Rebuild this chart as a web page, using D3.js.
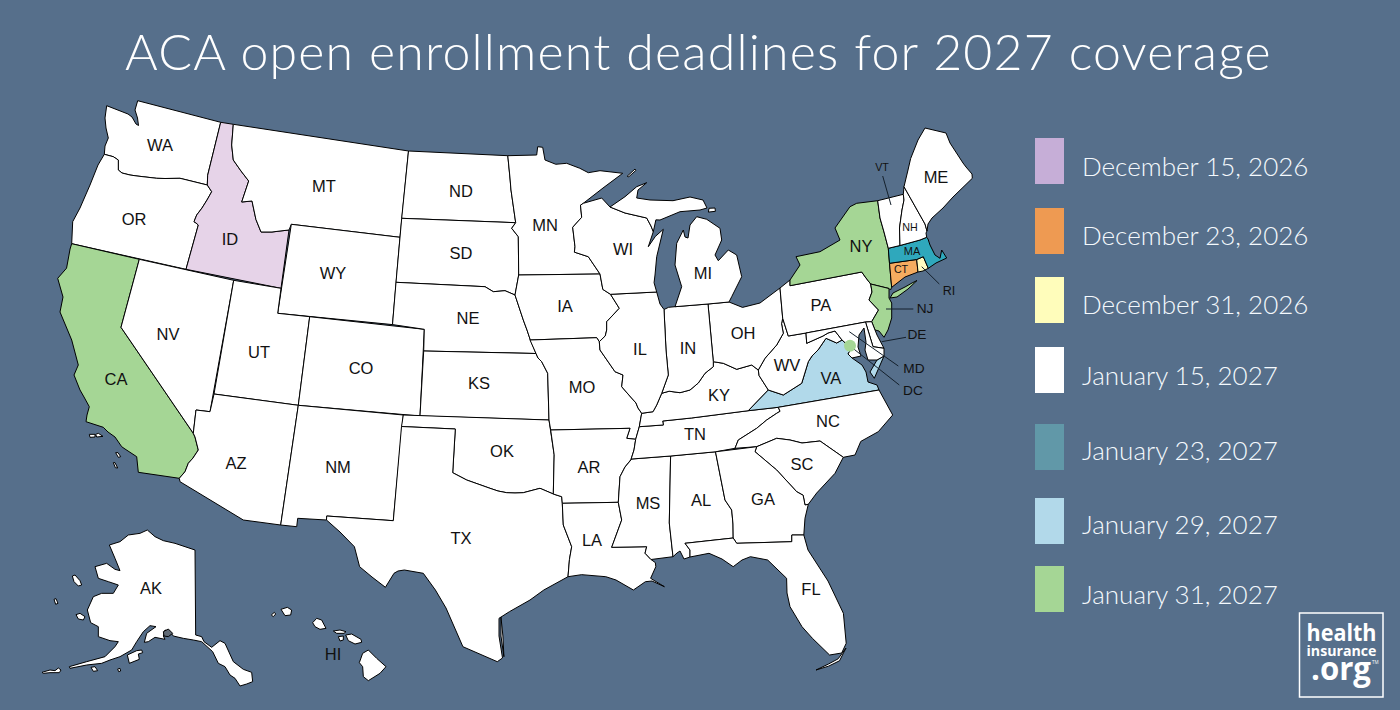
<!DOCTYPE html>
<html><head><meta charset="utf-8">
<script src="https://cdn.jsdelivr.net/npm/d3@7"></script>
<style>html,body{margin:0;padding:0;background:#566f8b}svg{display:block}</style></head>
<body><svg id="c" width="1400" height="710"></svg>
<script>
const titleText="ACA open enrollment deadlines for 2027 coverage";
const deadlines=["December 15, 2026","December 23, 2026","December 31, 2026","January 15, 2027","January 23, 2027","January 29, 2027","January 31, 2027"];
const swatchColors=["#c6aed7","#ee9a52","#fffdbb","#ffffff","#6198a8","#b2d9ea","#a5d695"];
const highlighted={ID:"#e6d3e8",CA:"#a5d695",NY:"#a5d695",NJ:"#a5d695",LI:"#a5d695",MA:"#2fa8bc",CT:"#f5ac60",RI:"#fffbc0",VA:"#b1d9ea",VAE:"#b1d9ea"};
const stateGeo={
WA:[[-124.73,48.38],[-123.1,48.15],[-122.75,48.15],[-122.6,47.5],[-122.45,47.3],[-122.3,47.9],[-122.5,48.5],[-122.76,49],[-117.03,49],[-117.04,46.42],[-116.92,45.99],[-118.98,46],[-119.3,45.93],[-120.5,45.7],[-121.2,45.65],[-122,45.6],[-122.3,45.55],[-122.75,45.65],[-122.8,46],[-123.2,46.15],[-123.55,46.26],[-124,46.27],[-124.1,46.7],[-124.2,47],[-124.4,47.5],[-124.7,47.95]],
OR:[[-124.2,42],[-124.55,42.84],[-124.15,43.7],[-124.05,44.7],[-123.95,45.5],[-124,46.27],[-123.55,46.26],[-123.2,46.15],[-122.8,46],[-122.75,45.65],[-122.3,45.55],[-122,45.6],[-121.2,45.65],[-120.5,45.7],[-119.3,45.93],[-118.98,46],[-116.92,45.99],[-116.47,45.6],[-116.67,45.3],[-116.85,44.95],[-117.2,44.45],[-117.03,44.25],[-116.95,44.1],[-117.03,43.83],[-117.03,42]],
CA:[[-124.2,42],[-120,42],[-120,39],[-114.63,35],[-114.57,34.8],[-114.14,34.3],[-114.43,34.08],[-114.72,33.4],[-114.52,33.03],[-114.72,32.72],[-117.12,32.53],[-117.28,33],[-118,33.65],[-118.4,33.75],[-118.52,34.03],[-119.2,34.15],[-119.6,34.42],[-120.47,34.45],[-120.65,34.95],[-120.9,35.45],[-121.9,36.6],[-121.8,36.85],[-122.05,36.95],[-122.5,37.5],[-122.5,37.8],[-123,38],[-123.7,38.9],[-123.8,39.7],[-124.35,40.3],[-124.4,40.45],[-124.1,41],[-124.2,41.75]],
NV:[[-120,42],[-114.04,42],[-114.04,36.2],[-114.75,36.1],[-114.63,35],[-120,39]],
ID:[[-117.03,42],[-111.05,42],[-111.05,44.47],[-111.5,44.53],[-112.3,44.55],[-113,44.45],[-113.45,44.95],[-113.95,45.7],[-114.5,45.55],[-114.35,46.65],[-114.9,46.9],[-115.7,47.45],[-116.05,48],[-116.05,49],[-117.03,49],[-117.04,46.42],[-116.92,45.99],[-116.47,45.6],[-116.67,45.3],[-116.85,44.95],[-117.2,44.45],[-117.03,44.25],[-116.95,44.1],[-117.03,43.83]],
MT:[[-116.05,49],[-104.05,49],[-104.05,45],[-111.05,45],[-111.05,44.47],[-111.5,44.53],[-112.3,44.55],[-113,44.45],[-113.45,44.95],[-113.95,45.7],[-114.5,45.55],[-114.35,46.65],[-114.9,46.9],[-115.7,47.45],[-116.05,48]],
WY:[[-111.05,45],[-104.05,45],[-104.05,41],[-111.05,41]],
UT:[[-114.04,42],[-111.05,42],[-111.05,41],[-109.05,41],[-109.05,37],[-114.04,37]],
CO:[[-109.05,41],[-102.05,41],[-102.05,37],[-109.05,37]],
AZ:[[-114.75,36.1],[-114.04,36.2],[-114.04,37],[-109.05,37],[-109.05,31.33],[-111.07,31.33],[-114.81,32.5],[-114.72,32.72],[-114.52,33.03],[-114.72,33.4],[-114.43,34.08],[-114.14,34.3],[-114.57,34.8],[-114.63,35]],
NM:[[-109.05,37],[-103,37],[-103.04,32],[-106.62,32],[-106.53,31.78],[-108.2,31.78],[-108.2,31.33],[-109.05,31.33]],
ND:[[-104.05,49],[-97.23,49],[-97.1,48],[-96.85,47.6],[-96.56,45.93],[-104.05,45.94]],
SD:[[-104.05,45.94],[-96.56,45.93],[-96.85,45.6],[-96.45,45.3],[-96.45,43.5],[-96.44,42.49],[-97.2,42.85],[-97.9,42.8],[-98.5,43],[-104.05,43]],
NE:[[-104.05,43],[-98.5,43],[-97.9,42.8],[-97.2,42.85],[-96.44,42.49],[-96.1,41.7],[-95.9,41.2],[-95.85,40.7],[-95.3,40],[-102.05,40],[-102.05,41],[-104.05,41]],
KS:[[-102.05,40],[-95.3,40],[-94.9,39.75],[-95,39.5],[-94.6,39.1],[-94.62,37],[-102.05,37]],
OK:[[-103,37],[-94.62,37],[-94.43,35.4],[-94.48,33.64],[-95.3,33.88],[-96,33.85],[-96.6,33.85],[-97.2,33.85],[-97.7,33.95],[-98.1,34.1],[-99.2,34.3],[-100,34.56],[-100,36.5],[-103,36.5]],
TX:[[-106.62,32],[-103.04,32],[-103,36.5],[-100,36.5],[-100,34.56],[-99.2,34.3],[-98.1,34.1],[-97.7,33.95],[-97.2,33.85],[-96.6,33.85],[-96,33.85],[-95.3,33.88],[-94.48,33.64],[-94.04,33.55],[-94.04,33],[-94.04,32],[-93.55,31.2],[-93.7,30.6],[-93.84,29.7],[-94.7,29.4],[-95.3,28.9],[-96.4,28.35],[-97.2,27.6],[-97.4,27],[-97.15,25.96],[-97.6,25.9],[-99.1,26.4],[-99.5,27.5],[-100.3,28.3],[-100.7,29.1],[-101.4,29.77],[-102.3,29.88],[-102.7,29.7],[-103.15,28.98],[-104,29.3],[-104.5,29.65],[-105,30.65],[-106,31.4],[-106.53,31.78]],
PADRE:[[-97.1,27.65],[-97.3,27],[-97.08,26.02],[-97.2,27]],
MN:[[-97.23,49],[-95.15,49],[-95.15,49.38],[-94.82,49.3],[-94.6,48.72],[-93.8,48.55],[-92.95,48.62],[-92,48.3],[-91.4,48.07],[-90.75,48.1],[-89.5,48],[-90.8,47.3],[-92.1,46.75],[-92.29,46.67],[-92.29,46.07],[-92.85,45.6],[-92.75,45],[-92.8,44.75],[-91.9,44.3],[-91.2,43.5],[-96.45,43.5],[-96.45,45.3],[-96.85,45.6],[-96.56,45.93],[-96.85,47.6],[-97.1,48]],
ROYALE:[[-89.2,47.85],[-88.45,48.15],[-88.4,48.08],[-89.05,47.82]],
IA:[[-96.45,43.5],[-91.2,43.5],[-91.1,42.75],[-90.65,42.5],[-90.15,41.9],[-90.35,41.55],[-91.05,41.2],[-91.1,40.7],[-91.42,40.38],[-91.7,40.6],[-95.77,40.58],[-95.85,40.7],[-95.9,41.2],[-96.1,41.7],[-96.44,42.49]],
MO:[[-95.77,40.58],[-91.7,40.6],[-91.42,40.38],[-91.5,40],[-90.75,39.25],[-90.7,38.9],[-90.15,38.8],[-90.2,38.4],[-89.6,37.9],[-89.5,37.3],[-89.13,36.98],[-89.4,36.5],[-89.7,36],[-90.37,36],[-90.15,36.5],[-94.62,36.5],[-94.62,37],[-94.6,39.1],[-95,39.5],[-94.9,39.75],[-95.3,40]],
AR:[[-94.62,36.5],[-90.15,36.5],[-90.37,36],[-89.7,36],[-89.95,35.5],[-90.1,35],[-90.6,34.7],[-91.1,33.9],[-91.17,33],[-94.04,33],[-94.04,33.55],[-94.48,33.64],[-94.43,35.4]],
LA:[[-94.04,33],[-91.17,33],[-91,32.4],[-91.6,31],[-89.73,31],[-89.85,30.67],[-89.6,30.2],[-89.4,30],[-89.4,29.8],[-89.4,29.3],[-89.1,29],[-89.4,28.95],[-90,29.2],[-90.9,29.05],[-91.8,29.5],[-92.3,29.55],[-93.2,29.77],[-93.84,29.7],[-93.7,30.6],[-93.55,31.2],[-94.04,32]],
MS:[[-91.17,33],[-91.1,33.9],[-90.6,34.7],[-90.3,35],[-88.2,35],[-88.1,34.9],[-88.47,31.9],[-88.4,30.35],[-89.6,30.2],[-89.85,30.67],[-89.73,31],[-91.6,31],[-91,32.4]],
AL:[[-88.2,35],[-85.6,34.98],[-85.18,32.87],[-85,32.3],[-85.05,31.55],[-85,31],[-87.6,31],[-87.4,30.65],[-87.52,30.28],[-88,30.23],[-88.05,30.6],[-88.13,30.33],[-88.4,30.35],[-88.47,31.9],[-88.1,34.9]],
TN:[[-90.3,35],[-90.1,35],[-89.95,35.5],[-89.7,36],[-89.4,36.5],[-88.05,36.5],[-88.07,36.68],[-86.5,36.65],[-83.68,36.6],[-81.68,36.59],[-81.7,36.3],[-82,36.12],[-82.6,36],[-83.1,35.75],[-84,35.4],[-84.32,34.99],[-85.6,34.98],[-88.2,35]],
KY:[[-89.4,36.5],[-89.13,36.98],[-88.5,37.1],[-88.1,37.5],[-88.02,37.8],[-87.6,37.9],[-87.1,37.8],[-86.5,38],[-85.9,38],[-85.4,38.7],[-84.8,38.78],[-84.8,39.1],[-84.2,38.8],[-83.7,38.63],[-83,38.73],[-82.6,38.42],[-82.6,38.15],[-81.97,37.54],[-83.68,36.6],[-86.5,36.65],[-88.07,36.68],[-88.05,36.5]],
VA:[[-83.68,36.6],[-81.97,37.54],[-81.25,37.25],[-80.3,37.5],[-79.9,38.2],[-79.3,38.42],[-78.87,38.77],[-78.35,39.4],[-77.83,39.13],[-77.72,39.32],[-77.1,38.85],[-77.05,38.75],[-77.3,38.4],[-76.95,38.25],[-76.3,37.9],[-76.3,37.5],[-76.35,37],[-76,36.92],[-75.87,36.55],[-81.68,36.59]],
VAE:[[-75.65,37.95],[-75.24,38.03],[-75.9,37.1],[-76,37.3]],
WV:[[-81.97,37.54],[-82.6,38.15],[-82.6,38.42],[-82.2,38.6],[-81.7,39.25],[-80.87,39.7],[-80.65,40.4],[-80.52,40.64],[-80.52,39.72],[-79.48,39.72],[-79.48,39.2],[-79.1,39.47],[-78.45,39.53],[-77.83,39.6],[-77.72,39.32],[-77.83,39.13],[-78.35,39.4],[-78.87,38.77],[-79.3,38.42],[-79.9,38.2],[-80.3,37.5],[-81.25,37.25]],
OH:[[-84.8,39.1],[-84.8,41.7],[-83.45,41.73],[-82.7,41.45],[-81.7,41.5],[-80.52,41.98],[-80.52,40.64],[-80.65,40.4],[-80.87,39.7],[-81.7,39.25],[-82.2,38.6],[-82.6,38.42],[-83,38.73],[-83.7,38.63],[-84.2,38.8]],
IN:[[-87.53,41.7],[-87.2,41.75],[-86.82,41.76],[-84.8,41.7],[-84.8,39.1],[-84.8,38.78],[-85.4,38.7],[-85.9,38],[-86.5,38],[-87.1,37.8],[-87.6,37.9],[-88.02,37.8],[-87.53,38.7],[-87.53,39.35]],
IL:[[-90.65,42.5],[-87.8,42.5],[-87.6,41.85],[-87.53,41.7],[-87.53,39.35],[-87.53,38.7],[-88.02,37.8],[-88.1,37.5],[-88.5,37.1],[-89.13,36.98],[-89.5,37.3],[-89.6,37.9],[-90.2,38.4],[-90.15,38.8],[-90.7,38.9],[-90.75,39.25],[-91.5,40],[-91.42,40.38],[-91.1,40.7],[-91.05,41.2],[-90.35,41.55],[-90.15,41.9]],
WI:[[-92.1,46.75],[-90.9,46.95],[-90.4,46.55],[-89.1,46.15],[-88.1,45.9],[-87.85,45.35],[-87.6,45.1],[-88,44.55],[-87.5,44.9],[-87.05,45.25],[-87.5,44.4],[-87.75,43.7],[-87.9,43],[-87.8,42.5],[-90.65,42.5],[-91.1,42.75],[-91.2,43.5],[-91.9,44.3],[-92.8,44.75],[-92.75,45],[-92.85,45.6],[-92.29,46.07],[-92.29,46.67]],
MIL:[[-86.82,41.76],[-86.25,42.4],[-86.5,43.6],[-86.25,44.7],[-85.6,45],[-85.5,44.8],[-85.35,44.8],[-85,45.4],[-84.75,45.78],[-84.2,45.63],[-83.4,45.2],[-83.3,44.85],[-83.55,44.05],[-83.9,43.65],[-82.95,44.07],[-82.6,43.8],[-82.42,43],[-83.1,42.25],[-83.45,41.73],[-84.8,41.7]],
MIU:[[-90.4,46.55],[-89.1,46.95],[-88.45,47.35],[-87.9,47.47],[-88.2,47],[-88.45,46.8],[-87.5,46.5],[-86.5,46.5],[-85.7,46.7],[-85,46.75],[-84.55,46.45],[-84.75,45.9],[-85.5,46.05],[-86.5,45.75],[-87,45.75],[-87.6,45.1],[-87.85,45.35],[-88.1,45.9],[-89.1,46.15]],
DRUMMOND:[[-84.1,46.1],[-83.7,46.05],[-83.7,45.9],[-84.1,45.92]],
PA:[[-80.52,41.98],[-79.76,42.27],[-79.76,42],[-75.35,42],[-75.05,41.7],[-74.7,41.36],[-75.1,40.95],[-75.2,40.65],[-74.72,40.15],[-75.4,39.8],[-75.79,39.72],[-79.48,39.72],[-80.52,39.72],[-80.52,40.64]],
NY:[[-79.76,42.27],[-78.9,42.85],[-79.05,43.27],[-77.5,43.27],[-76.3,43.5],[-76.2,44],[-75,44.95],[-74.7,45],[-73.35,45],[-73.4,44],[-73.4,43.6],[-73.27,42.75],[-73.5,42.05],[-73.5,41.3],[-73.65,41],[-73.8,40.8],[-73.9,41],[-74.7,41.36],[-75.05,41.7],[-75.35,42],[-79.76,42]],
LI:[[-74.03,40.6],[-73.75,40.85],[-72.6,40.98],[-72.3,41.15],[-71.87,41.07],[-72.5,40.82],[-73.5,40.6]],
NJ:[[-74.7,41.36],[-73.9,41],[-74.15,40.6],[-74,40.4],[-74.1,39.75],[-74.4,39.4],[-74.9,38.93],[-75.15,39.2],[-75.55,39.5],[-75.4,39.8],[-74.72,40.15],[-75.2,40.65],[-75.1,40.95]],
DE:[[-75.79,39.72],[-75.4,39.8],[-75.55,39.5],[-75.4,39.1],[-75.05,38.45],[-75.7,38.45]],
MD:[[-79.48,39.72],[-75.79,39.72],[-75.7,38.45],[-75.05,38.45],[-75.24,38.03],[-75.65,37.95],[-75.9,38.2],[-76.2,38.6],[-76.1,39],[-76.1,39.4],[-76.5,39.2],[-76.45,38.5],[-76.3,38.05],[-76.95,38.25],[-77.3,38.4],[-77.05,38.75],[-77.1,38.85],[-77.72,39.32],[-77.83,39.6],[-78.45,39.53],[-79.1,39.47],[-79.48,39.2]],
CT:[[-73.5,42.05],[-71.8,42.02],[-71.85,41.32],[-72.9,41.25],[-73.65,41],[-73.5,41.3]],
RI:[[-71.8,42.02],[-71.38,42.02],[-71.2,41.5],[-71.5,41.37],[-71.85,41.32]],
MA:[[-73.5,42.05],[-73.27,42.75],[-72.46,42.73],[-71.3,42.7],[-70.9,42.88],[-70.6,42.65],[-71,42.3],[-70.6,41.95],[-70,41.8],[-70.2,42.07],[-69.95,41.7],[-70.65,41.55],[-71.2,41.5],[-71.38,42.02],[-71.8,42.02]],
VT:[[-73.35,45],[-71.5,45.01],[-71.6,44.5],[-72.05,44.2],[-72.4,43.4],[-72.46,42.73],[-73.27,42.75],[-73.4,43.6],[-73.4,44]],
NH:[[-71.5,45.01],[-71.08,45.3],[-70.98,43.4],[-70.7,43.08],[-70.82,42.87],[-70.9,42.88],[-71.3,42.7],[-72.46,42.73],[-72.4,43.4],[-72.05,44.2],[-71.6,44.5]],
ME:[[-71.08,45.3],[-70.4,45.8],[-70.25,46.2],[-70,46.7],[-69.23,47.46],[-68.3,47.36],[-67.8,47.07],[-67.78,45.9],[-67.45,45.6],[-67.45,45.2],[-67,44.85],[-68,44.4],[-69,44.1],[-69.8,43.75],[-70.25,43.6],[-70.7,43.08],[-70.98,43.4]],
NC:[[-84.32,34.99],[-84,35.4],[-83.1,35.75],[-82.6,36],[-82,36.12],[-81.7,36.3],[-81.68,36.59],[-75.87,36.55],[-75.5,35.25],[-76.5,34.65],[-77.5,34.4],[-77.95,33.85],[-78.55,33.86],[-79.67,34.8],[-80.8,34.82],[-81.05,35.15],[-82.3,35.2],[-83.1,35]],
SC:[[-83.1,35],[-82.3,35.2],[-81.05,35.15],[-80.8,34.82],[-79.67,34.8],[-78.55,33.86],[-79.2,33.2],[-80,32.6],[-80.85,32.05],[-81.15,32.2],[-81.4,33],[-81.9,33.45],[-82.6,34],[-83.35,34.7]],
GA:[[-85.6,34.98],[-83.1,35],[-83.35,34.7],[-82.6,34],[-81.9,33.45],[-81.4,33],[-81.15,32.2],[-80.85,32.05],[-81.2,31.5],[-81.45,30.72],[-82.05,30.75],[-82.2,30.57],[-84.86,30.7],[-85,31],[-85.05,31.55],[-85,32.3],[-85.18,32.87]],
FL:[[-87.6,31],[-85,31],[-84.86,30.7],[-82.2,30.57],[-82.05,30.75],[-81.45,30.72],[-81.3,29.9],[-80.6,28.5],[-80.05,26.9],[-80.15,25.75],[-80.4,25.2],[-81.1,25.15],[-81.75,25.95],[-82.1,26.7],[-82.7,27.7],[-82.8,28.2],[-82.7,28.9],[-83.4,29.5],[-84,30.1],[-84.4,29.95],[-85.3,29.68],[-85.7,30.15],[-86.5,30.38],[-87.52,30.28],[-87.4,30.65]],
KEYS:[[-80.25,25.35],[-80.65,24.95],[-81.2,24.75],[-81.8,24.55],[-81.2,24.65],[-80.6,24.85]]
};
// registration table: lon, lat, then where that point sits in the reference picture (later rows win)
const registration=[
[-122.76,49,137.7,100.7],[-124.73,48.38,106.7,105.7],[-117.03,49,220.7,122.3],[-116.05,49,233.3,124.3],[-104.05,49,408.5,151],[-116.92,45.99,207.3,185],[-124.2,42,71.7,243.7],[-120,42,139.3,259.3],[-117.03,42,186,269.3],[-111.05,42,281,288.3],[-111.05,45,291.3,224.3],[-104.05,45,400,237.3],[-111.05,41,277.7,313.3],[-104.05,41,392.5,324.6],[-114.04,42,233.7,280.3],[-124,46.27,104.3,154.3],[-124.55,42.84,72.7,221.7],
[-116.05,48,231.7,145],[-114.35,46.65,248.7,181],[-114.5,45.55,241.7,202],[-113.95,45.7,252,201],[-113,44.45,261,232],[-111.05,44.47,289,230],[-124.4,40.45,57.7,278.3],
[-120,39,121,327.3],[-114.63,35,193.3,433.3],[-114.04,37,214,394],[-109.05,37,298.3,405.3],[-102.05,37,420,416],[-103,37,403.3,415],[-103,36.5,401.5,426.5],[-103.04,32,393.3,520.7],[-106.62,32,326.7,516],[-106.53,31.78,326.5,520],[-108.2,31.33,296.7,526.7],[-108.2,31.78,297.7,518.3],[-109.05,31.33,280.7,525],[-111.07,31.33,243.3,520],[-114.81,32.5,180,481.7],[-117.12,32.53,138.3,472.3],[-114.72,32.72,179.3,478.3],[-109.05,41,309.7,316.7],[-114.04,36.2,210,411.7],[-114.75,36.1,196,410],[-120.47,34.45,87,423],[-118.4,33.75,121,448.3],[-122.5,37.8,78.3,365],
[-97.23,49,507.8,155.7],[-95.15,49,536.7,155],[-95.15,49.38,537.7,146.7],[-94.82,49.3,542.7,147.3],[-94.6,48.72,545,160],[-92.95,48.62,566.7,163.3],[-91.4,48.07,588.3,172.7],[-90.75,48.1,600,170.7],[-89.5,48,622.7,173.3],[-90.8,47.3,603,188],[-88.45,48.15,635,169],
[-104.05,45.94,401.7,218.3],[-96.56,45.93,515.7,222.7],[-96.45,43.5,518.7,275],[-104.05,43,396,282.3],[-98.5,43,485,286.7],[-96.44,42.49,515,295],[-95.77,40.58,530,340],[-95.3,40,536,353.5],[-102.05,40,423.7,351],[-102.05,41,424.3,329.3],[-91.2,43.5,600,274],[-91.7,40.6,596.7,337.7],[-90.65,42.5,610.5,294.3],[-87.8,42.5,656.7,292],[-92.1,46.75,583.3,203.3],[-92.29,46.07,581.7,217.3],[-92.85,45.6,572.7,227.3],[-92.75,45,575,246.7],[-91.9,44.3,588.3,256.7],[-90.4,46.55,610,207],[-90.9,46.95,601.7,198],[-89.1,46.15,625,213],[-88.1,45.9,646.7,218],[-87.85,45.35,651,226],[-87.6,45.1,653.3,231.7],[-88,44.55,648.3,246.7],[-87.05,45.25,663.3,229.3],[-87.5,44.4,656.7,256.7],[-87.75,43.7,655,275],
[-89.1,46.95,625,196.7],[-88.45,47.35,636.7,186.7],[-87.9,47.47,646.7,182.7],[-88.2,47,638,190],[-88.45,46.8,636.7,198],[-87.5,46.5,650,200],[-86.5,46.5,673,200.7],[-85.7,46.7,690,197],[-85,46.75,703,200],[-84.55,46.45,707,208],[-84.75,45.9,700,210],[-85.5,46.05,680,211.7],[-86.5,45.75,660,220],[-83.7,46.05,715,208],
[-87.6,41.85,660,304],[-87.53,41.7,664,309.5],[-86.82,41.76,675,306.7],[-84.8,41.7,708,304],[-83.45,41.73,729,302],[-86.25,42.4,681.7,286.7],[-86.5,43.6,675,265],[-86.25,44.7,676.7,243.3],[-85.6,45,683.3,230],[-85.5,44.8,685,237],[-85.35,44.8,688,238],[-85,45.4,690,225],[-84.75,45.78,696.7,216.7],[-84.2,45.63,706.7,219.3],[-83.4,45.2,720,228.3],[-83.3,44.85,721.7,240],[-83.55,44.05,715,255],[-83.9,43.65,718.3,260.7],[-82.95,44.07,728.3,250],[-82.6,43.8,736.7,255],[-82.42,43,741.7,276.7],[-83.1,42.25,731.7,296.7],[-81.7,41.5,760,303],
[-90.15,41.9,619.3,308.3],[-90.35,41.55,606.7,321.7],[-91.05,41.2,606.7,330],[-91.42,40.38,599.3,341.7],[-91.5,40,600,350],[-90.75,39.25,615,371.7],[-90.7,38.9,623,375],[-90.15,38.8,621.7,386.7],[-90.2,38.4,628,394],[-89.6,37.9,636,403],[-89.5,37.3,638,408],[-89.13,36.98,641.7,413.3],[-94.6,39.1,547.7,373.3],[-94.62,37,549,420],[-94.62,36.5,550.7,430],[-100,36.5,455.3,429],[-100,34.56,452.7,472.7],[-94.48,33.64,553.3,494],[-94.04,33.55,561.7,496.7],[-94.04,33,562.3,503.3],[-91.17,33,618.3,502.3],[-90.15,36.5,630,428.3],[-90.37,36,626.7,438.3],[-89.7,36,635.7,439.3],[-89.4,36.5,639.3,426.7],[-88.07,36.68,662.7,421],[-90.3,35,631.7,459],[-88.2,35,670.7,456],[-85.6,34.98,715.5,451.8],[-91.6,31,611.7,547.3],[-89.73,31,646.7,546.7],[-94.04,32,563.3,525],[-93.55,31.2,571.7,546.7],[-93.84,29.7,568,576.7],
[-88.02,37.8,661.7,393.3],[-88.1,37.5,656.7,405],[-88.5,37.1,653,411.7],[-87.53,38.7,668.3,375],[-87.53,39.35,666,350],[-87.1,37.8,680,392.7],[-86.5,38,690,390],[-85.9,38,698.3,383],[-85.4,38.7,705,373.3],[-84.8,38.78,713.3,366.7],[-84.8,39.1,713.3,361.7],[-84.2,38.8,723.3,363.3],[-83.7,38.63,736.7,369.3],[-83,38.73,751.7,365],[-82.6,38.42,758.3,370],[-82.2,38.6,765,358.3],[-81.7,39.25,776.7,345],[-80.87,39.7,783.3,333.3],[-80.52,40.64,782.7,318.3],[-80.52,39.72,788.3,336],[-80.52,41.98,780,288],[-81.97,37.54,768.3,390],[-83.68,36.6,748.3,410.7],[-81.68,36.59,778.3,407.3],[-75.87,36.55,879,390],[-75.5,35.25,892.7,415],[-76.5,34.65,878.3,431.7],[-77.95,33.85,855,455],[-78.55,33.86,843.3,457.3],[-79.67,34.8,820,441],[-80.8,34.82,802,443],[-81.05,35.15,790,440],[-82.3,35.2,776.7,438.3],[-83.1,35,756.7,446.7],[-83.35,34.7,755,451.7],[-84.32,34.99,735,448.3],[-84,35.4,738.3,440],[-83.1,35.75,756.7,428.3],[-82.6,36,766.7,420],[-82,36.12,776.7,413.3],[-82.6,34,776.7,470],[-81.9,33.45,796.7,491.7],[-81.15,32.2,805,505],[-80.85,32.05,808.3,504.3],[-80,32.6,816.7,493],[-79.2,33.2,835,473.3],
[-85,31,733.2,538],[-84.86,30.7,736.7,543.3],[-82.2,30.57,791.8,541.7],[-82.05,30.75,791.8,535],[-81.45,30.72,803.8,535],[-81.3,29.9,808,550],[-80.6,28.5,828,581],[-80.05,26.9,843.4,613.3],[-80.15,25.75,846.2,643.3],[-80.4,25.2,841.7,653],[-81.1,25.15,829.6,655],[-81.75,25.95,812.4,638.3],[-82.1,26.7,802,626.7],[-82.7,27.7,790,606.7],[-82.8,28.2,787,593],[-82.7,28.9,786.6,578.3],[-83.4,29.5,767.7,560],[-84,30.1,750.4,556.7],[-84.4,29.95,742,560],[-85.3,29.68,733.2,566.7],[-85.7,30.15,722,559],[-86.5,30.38,709,553.3],[-87.52,30.28,690,557],[-87.4,30.65,690,550],[-87.6,31,685,543.3],[-88,30.23,684,559],[-88.05,30.6,680,551],[-88.13,30.33,677,553],[-88.4,30.35,673,556.7],[-81.8,24.55,816,670],[-80.25,25.35,846,648],
[-89.6,30.2,651,559.5],[-89.4,29.8,655.8,566.7],[-89.4,29.3,650.6,578.3],[-89.1,29,664.4,586.7],[-89.4,28.95,652,581],[-90,29.2,645.4,581.7],[-90.9,29.05,633.4,590],[-91.8,29.5,616,580],[-92.3,29.55,605.8,576.7],
[-94.7,29.4,543.8,590],[-95.3,28.9,530,600],[-96.4,28.35,509.4,611.7],[-97.2,27.6,499,618.3],[-97.4,27,499,636],[-97.15,25.96,502.5,658],[-97.6,25.9,497.3,661.7],[-99.1,26.4,462.9,646.7],[-99.5,27.5,446,608],[-100.3,28.3,435.4,590],[-100.7,29.1,423.3,573.3],[-101.4,29.77,404.4,570],[-102.3,29.88,398,571],[-102.7,29.7,394,573.3],[-103.15,28.98,385.4,587.3],[-104,29.3,372,577],[-104.5,29.65,359.6,566.7],[-105,30.65,354.4,546.7],[-106,31.4,340,532],
[-79.76,42,790,285.7],[-79.76,42.27,790,280],[-78.9,42.85,800,265],[-79.05,43.27,796,256.7],[-77.5,43.27,820,251.7],[-76.3,43.5,840,240],[-76.2,44,835,228],[-75,44.95,850,206.7],[-74.7,45,856.7,203.3],[-73.35,45,877.7,200.7],[-71.5,45.01,903.3,194.3],[-71.08,45.3,904,186.7],[-73.4,44,880,218],[-73.4,43.6,884,232],[-73.27,42.75,888.3,248.3],[-72.46,42.73,900,245.5],[-71.3,42.7,920,240],[-70.9,42.88,926.7,237.3],[-70.82,42.87,926,233],[-70.7,43.08,927,231],[-70.98,43.4,925,224],[-71.6,44.5,904,200],[-72.05,44.2,902,210],[-72.4,43.4,899.5,228],
[-70.6,42.65,928,239],[-71,42.3,930,245],[-70.6,41.95,935,255],[-70,41.8,940,258.3],[-70.2,42.07,941.7,250],[-69.95,41.7,946.7,258],[-70.65,41.55,936,263],[-71.2,41.5,928.3,268.3],[-71.38,42.02,923.3,256.7],[-71.8,42.02,916.7,259.5],[-71.5,41.37,923,271],[-71.85,41.32,918,272],[-72.9,41.25,905,277],[-73.65,41,891.7,287.3],[-73.5,41.3,891,280],[-73.5,42.05,889.5,263.3],
[-74.03,40.6,890,298],[-73.75,40.85,893,293],[-72.6,40.98,905,287],[-72.3,41.15,912,283],[-71.87,41.07,917,280.5],[-72.5,40.82,908,289],[-73.5,40.6,897,297],[-74.7,41.36,870.7,284],[-75.05,41.7,866,278],[-75.35,42,861.7,272],[-75.1,40.95,872,292],[-75.2,40.65,869,300],[-74.72,40.15,878.5,310],[-75.4,39.8,871.7,321.7],[-75.55,39.5,875,330],[-75.15,39.2,879,331],[-74.9,38.93,884,337.3],[-74.4,39.4,888,330],[-74.1,39.75,891.7,318],[-74,40.4,891.7,303],[-74.15,40.6,889,298],[-73.9,41,889,288.5],[-73.8,40.8,890.5,290],
[-75.79,39.72,865.5,322],[-75.4,39.1,877,335],[-75.05,38.45,884,348.3],[-75.7,38.45,873,346.7],[-75.24,38.03,884,356],[-75.65,37.95,877,360],[-75.9,38.2,868,360],[-76.2,38.6,865,350],[-76.1,39,866,342],[-76.1,39.4,864,328],[-76.5,39.2,859,335],[-76.45,38.5,858,347],[-76.3,38.05,861,356],[-75.9,37.1,874.3,378.3],[-76,37.3,870,372],
[-79.48,39.72,806,333],[-79.48,39.2,806.7,343.3],[-79.1,39.47,823,336],[-78.45,39.53,828,333],[-77.83,39.6,835,331],[-77.72,39.32,842,340],[-77.83,39.13,836.7,343],[-78.35,39.4,826,338.3],[-78.87,38.77,818,350],[-79.3,38.42,812,356],[-79.9,38.2,808.3,361.7],[-80.3,37.5,801.7,383.3],[-81.25,37.25,783.3,395],[-77.1,38.85,850,347],[-77.05,38.75,851,349],[-77.3,38.4,848,354],[-76.95,38.25,852,358],[-76.3,37.9,862,365],[-76.3,37.5,866,372],[-76.35,37,868,382],[-76,36.92,877,385],
[-69.23,47.46,925,128],[-68.3,47.36,946,133],[-67.8,47.07,950,143],[-67.78,45.9,963,163],[-67.45,45.6,966,167],[-67.45,45.2,972,174],[-67,44.85,972.3,178.3],[-68,44.4,953,197],[-69,44.1,943,208],[-69.8,43.75,932,218],[-70.25,43.6,928,224],[-70.4,45.8,908,170],[-70,46.7,918,140],
[-123.1,48.15,128,114],[-122.75,48.15,132,117],[-122.6,47.5,136,124],[-122.45,47.3,138.5,125.5],[-122.3,47.9,137.5,118],[-122.5,48.5,135,110],[-124.7,47.95,105,118],[-124.4,47.5,106,128],[-124.2,47,108.3,138],[-124.1,46.7,105,146],
[-123.55,46.26,113.3,156.7],[-123.2,46.15,118.3,160],[-122.8,46,118.3,170],[-122.75,45.65,122,173],[-122.3,45.55,130,175],[-122,45.6,137,176],[-121.2,45.65,156.7,178.3],[-120.5,45.7,165,178.5],[-119.3,45.93,180,178.3],[-118.98,46,185,179.5],[-124.15,43.7,80,208],[-124.05,44.7,90,185],[-123.95,45.5,98,165],
[-116.47,45.6,211.7,191.7],[-116.67,45.3,207,200],[-116.85,44.95,202,208],[-117.2,44.45,196.7,215],[-117.03,44.25,194,221.7],[-116.95,44.1,196,223],[-117.03,43.83,198.3,225],[-115.7,47.45,233.3,160],[-114.9,46.9,241,171],[-111.5,44.53,280,231],[-112.3,44.55,272,232],
[-124.35,40.3,59,283],[-123.8,39.7,63,297],[-123.7,38.9,60,312],[-123,38,71.7,340],[-122.5,37.5,74,375],[-122.05,36.95,78,385],[-121.8,36.85,80,390],[-121.9,36.6,84,397],[-120.9,35.45,89.3,406.7],[-120.65,34.95,87,415],[-120.47,34.45,86,421.7],[-119.6,34.42,103.3,427.3],[-119.2,34.15,108,432],[-118.52,34.03,115,437],[-118.4,33.75,121.7,446.7],[-118,33.65,125,449],[-117.28,33,136.7,456.7],[-114.57,34.8,195,437],[-114.14,34.3,198.3,450],[-114.43,34.08,193,458],[-114.72,33.4,188.3,463.3],[-114.52,33.03,185,471.7],
[-99.2,34.3,466.7,480],[-98.1,34.1,490,488.3],[-97.7,33.95,498,491],[-97.2,33.85,506.7,492.7],[-96.6,33.85,515,493],[-96,33.85,523.3,492.7],[-95.3,33.88,540,488.3],
[-97.9,42.8,493.3,291.7],[-97.2,42.85,505,290.7],[-96.1,41.7,523.3,320],[-95.9,41.2,527,330],[-95.85,40.7,530,339],[-94.9,39.75,538,358],[-95,39.5,541.7,361.7],[-97.1,48,510,178],[-96.85,47.6,511,190],[-96.85,45.6,511.7,228.3],[-96.45,45.3,518.3,236.7],
[-90.1,35,631,459.5],[-89.95,35.5,634,450],[-90.6,34.7,625,467],[-91.1,33.9,620,476.7],[-91,32.4,621.7,520],[-85.18,32.87,725,500],[-85,32.3,731.7,510],[-85.05,31.55,733,524],[-88.1,34.9,670.5,460],[-88.47,31.9,669.3,523]
];
const alaska=[[495,120],[497,375],[515,380],[522,395],[545,412],[570,392],[585,400],[610,455],[640,478],[665,487],[668,515],[650,522],[630,528],[615,505],[600,495],[585,470],[565,460],[548,425],[515,395],[490,390],[460,385],[430,378],[420,365],[405,360],[400,378],[405,388],[375,382],[355,395],[343,397],[350,370],[378,350],[360,347],[340,365],[320,395],[305,420],[270,440],[240,450],[215,460],[170,465],[120,475],[118,470],[170,455],[225,440],[255,410],[265,395],[240,392],[205,380],[205,350],[182,338],[172,300],[190,260],[215,250],[250,250],[265,225],[235,215],[205,205],[195,170],[230,160],[255,178],[270,182],[255,145],[238,105],[270,95],[295,75],[330,70],[352,60],[375,80],[400,92],[435,100],[465,110]];
const insetIslands=[
[[292,435],[320,422],[335,420],[338,428],[325,432],[328,448],[298,460]],
[[36,487],[60,480],[75,482],[85,474],[93,480],[88,488],[60,488],[40,490]],
[[183,472],[195,470],[203,482],[190,484]],
[[263,477],[270,475],[272,483],[266,485]],
[[127,198],[135,195],[150,212],[155,225],[145,228],[132,215]],
[[72,268],[78,266],[84,280],[77,283]],
[[138,314],[150,310],[165,320],[160,330],[145,327]],
[[753,298],[772,292],[785,300],[782,315],[765,317]],
[[724,315],[733,307],[737,312],[730,320]],
[[848,338],[860,325],[875,330],[888,355],[870,358],[855,350]],
[[910,363],[930,360],[948,365],[942,370],[920,370]],
[[925,380],[940,378],[940,390],[930,393]],
[[947,375],[965,372],[993,388],[995,397],[975,402],[955,392]],
[[998,430],[1015,420],[1040,445],[1068,470],[1050,490],[1015,512],[1000,500],[998,470],[988,458]],
[[178,-227],[195,-227],[195,-219],[180,-218]],
[[197,-227],[205,-230],[219,-221],[200,-219]],
[[257,-172],[264,-172],[272,-160],[265,-158]],
[[250,-142],[255,-142],[263,-126],[256,-127]]];
const alaskaLake=[[400,365],[415,357],[428,370],[415,380],[402,378]];

// layout (separate from the data)
const labelPos={WA:[160,145],OR:[134,219],CA:[116,379],NV:[168,334],ID:[230,239],MT:[324,186],WY:[333,273],UT:[259,352],AZ:[236,463],CO:[361,368],NM:[338,467],ND:[461,191],SD:[461,253],NE:[468,318],KS:[479,383],OK:[502,451],TX:[461,538],MN:[545,225],IA:[565,306],MO:[582,387],AR:[589,467],LA:[592,540],WI:[623,249],IL:[640,349],MI:[703,273],IN:[688,348],OH:[743,333],KY:[719,395],TN:[695,434],MS:[648,503],AL:[701,500],GA:[763,499],FL:[811,589],SC:[802,464],NC:[828,421],VA:[831,378],WV:[787,365],PA:[821,305],NY:[861,246],ME:[936,177],AK:[151,588],HI:[333,654]};
const smallLabels=[["VT",882,167,10.7],["NH",910,227,10.7],["MA",912,251,11],["CT",901,269,10.7],["NJ",925,308,13.7],["DE",917,334,13.7],["MD",914,368,13.7],["DC",913,390,13.7],["RI",949,290,12.5]];
const callouts=[[882.7,176,891,205],[886,309,913.3,309],[881.7,341.7,906,337.3],[849.3,331.7,898.3,366],[850,346,899.3,385],[921.7,266.7,939.3,284]];
const swatchY=[161,231,300,370,447,521,589];
const legendTextY=[176,245,314,385,460,534,604];

const svg=d3.select("#c");
svg.append("rect").attr("width",1400).attr("height",710).attr("fill","#566f8b");
const proj=d3.geoAlbers().parallels([29.5,45.5]).rotate([96,0]).center([0,38.7]).scale(1264).translate([526,370]);
// fit the projected map to the reference through the registration points
const regMap=new Map(registration.map(r=>[r[0]+","+r[1],r]));
const regPts=[...regMap.values()].map(r=>{const q=proj([r[0],r[1]]);return {x:q[0],y:q[1],dx:r[2]-q[0],dy:r[3]-q[1]};});
function place(p){
  const q=proj(p);let w=0,sx=0,sy=0;
  for(const r of regPts){
    const d2=(q[0]-r.x)**2+(q[1]-r.y)**2;
    if(d2<1e-6)return [q[0]+r.dx,q[1]+r.dy];
    const wt=1/(d2*d2);w+=wt;sx+=wt*r.dx;sy+=wt*r.dy;
  }
  return [q[0]+sx/w,q[1]+sy/w];
}
const line=d3.line().curve(d3.curveLinearClosed);
const insetX=d3.scaleLinear().domain([0,1140]).range([30,410]);
const insetY=d3.scaleLinear().domain([0,570]).range([510,700]);
const g=svg.append("g").attr("stroke","#000").attr("stroke-width",1).attr("stroke-linejoin","round");
g.selectAll("path.state").data(Object.keys(stateGeo)).join("path").attr("class","state")
 .attr("d",k=>line(stateGeo[k].map(place))).attr("fill",k=>highlighted[k]||"#fff");
const insetPts=a=>line(a.map(p=>[insetX(p[0]),insetY(p[1])]));
g.selectAll("path.inset").data([alaska,...insetIslands]).join("path").attr("class","inset").attr("d",insetPts).attr("fill","#fff");
g.append("path").attr("d",insetPts(alaskaLake)).attr("fill","#606a75");

const lab=svg.append("g").attr("font-family","'Liberation Sans',Arial,sans-serif").attr("fill","#111").attr("text-anchor","middle");
lab.selectAll("text.big").data(Object.keys(labelPos)).join("text").attr("class","big")
 .attr("x",k=>labelPos[k][0]).attr("y",k=>labelPos[k][1]+6).attr("font-size",16.5).text(k=>k);
lab.selectAll("text.small").data(smallLabels).join("text").attr("class","small")
 .attr("x",d=>d[1]).attr("y",d=>d[2]+d[3]*0.36).attr("font-size",d=>d[3]).text(d=>d[0]);
svg.append("g").attr("stroke","#14202c").attr("stroke-width",1).selectAll("line").data(callouts).join("line")
 .attr("x1",d=>d[0]).attr("y1",d=>d[1]).attr("x2",d=>d[2]).attr("y2",d=>d[3]);
svg.append("circle").attr("cx",850).attr("cy",345.7).attr("r",6).attr("fill","#a5d695");

svg.append("text").attr("x",698.5).attr("y",70).attr("text-anchor","middle").attr("font-family","Lato").attr("font-weight",300)
 .attr("font-size",50).attr("letter-spacing",1.2).attr("fill","#fff").text(titleText);

const lg=svg.append("g");
lg.selectAll("rect").data(deadlines).join("rect").attr("x",1035).attr("y",(d,i)=>swatchY[i]-23).attr("width",29).attr("height",46).attr("fill",(d,i)=>swatchColors[i]);
lg.selectAll("text").data(deadlines).join("text").attr("x",1082).attr("y",(d,i)=>legendTextY[i]).attr("font-family","Lato").attr("font-weight",300).attr("font-size",26).attr("fill","#f4f9fd").text(d=>d);

const logo=svg.append("g").attr("fill","#fff").attr("font-family","'Open Sans'").attr("font-weight",700);
logo.append("rect").attr("x",1299.5).attr("y",613).attr("width",83.5).attr("height",84).attr("fill","none").attr("stroke","#fff").attr("stroke-width",1.5);
logo.append("text").attr("x",1306.5).attr("y",641).attr("font-size",24).attr("textLength",70).attr("lengthAdjust","spacingAndGlyphs").text("health");
logo.append("text").attr("x",1306.5).attr("y",656).attr("font-size",15).attr("textLength",70).attr("lengthAdjust","spacingAndGlyphs").text("insurance");
logo.append("text").attr("x",1311).attr("y",680).attr("font-size",33).attr("textLength",60).attr("lengthAdjust","spacingAndGlyphs").text(".org");
logo.append("text").attr("x",1372).attr("y",664).attr("font-size",4.5).attr("font-weight",400).text("TM");
</script></body></html>
